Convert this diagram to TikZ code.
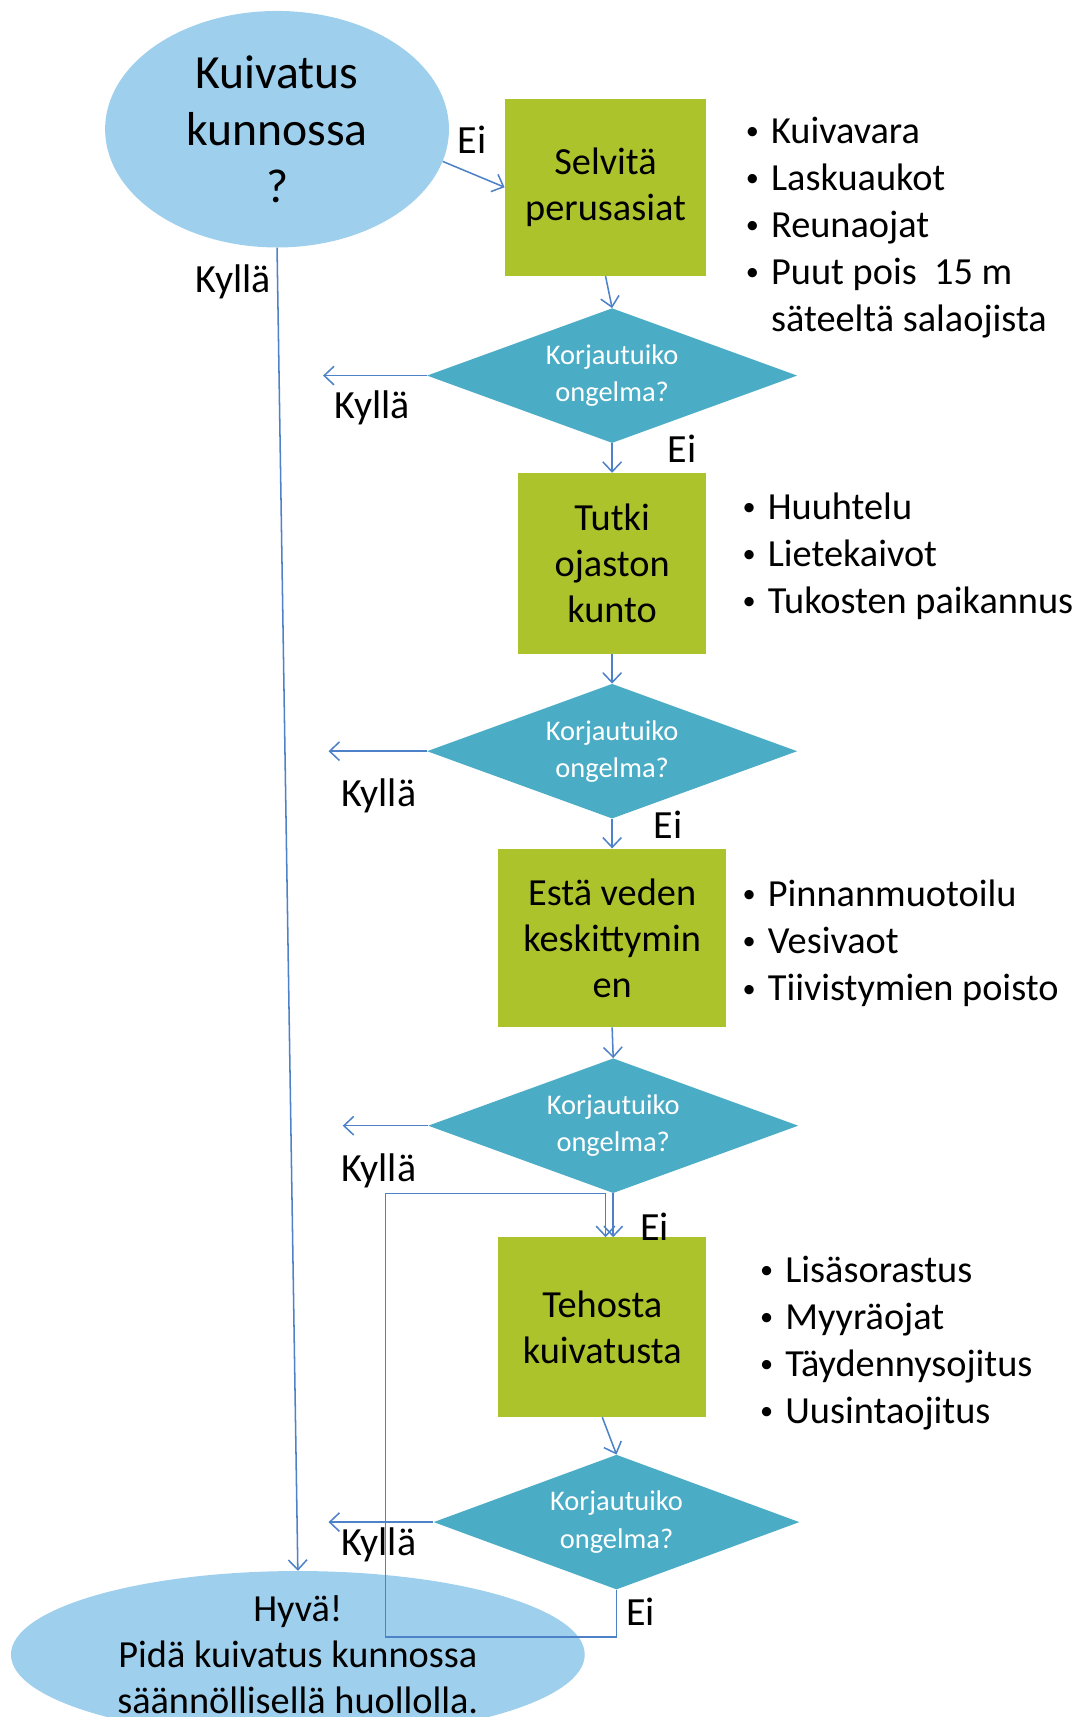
\documentclass[tikz,border=0pt]{standalone}
\usepackage{fontspec}
\setmainfont{Carlito}
\usetikzlibrary{shapes.geometric,arrows.meta}
\definecolor{ellblue}{RGB}{158,207,236}
\definecolor{boxgreen}{RGB}{173,195,43}
\definecolor{diateal}{RGB}{75,172,198}
\definecolor{lineblue}{RGB}{78,130,200}
\newcommand{\bul}{\makebox[24pt][l]{\hspace{1pt}\raisebox{3.5pt}{\fontsize{24}{24}\selectfont•}}}
\newcommand{\blist}[1]{\begin{tabular}[t]{@{}l@{}l@{}}#1\end{tabular}}
\begin{document}
\begin{tikzpicture}[x=1pt,y=-1pt,
  ell/.style={ellipse,fill=ellblue,draw=none,inner sep=0pt,align=center},
  stepbox/.style={rectangle,fill=boxgreen,draw=none,inner sep=0pt,align=center,
     font=\fontsize{35}{42}\selectfont},
  question/.style={diamond,aspect=2.75,fill=diateal,draw=none,inner sep=0pt,align=center,
     text=white,minimum width=338pt,minimum height=123pt,
     font=\fontsize{26}{34}\selectfont},
  lbl/.style={inner sep=0pt,font=\fontsize{36.5}{42}\selectfont},
  bullets/.style={inner sep=0pt,anchor=base west,font=\fontsize{35}{43}\selectfont},
  conn/.style={draw=lineblue,line width=1.4pt,
     -{Straight Barb[length=9pt,width=17pt,line width=1.4pt]}}]
\useasboundingbox (0,0) rectangle (987,1568);

% nodes
\node[ell,minimum width=314pt,minimum height=216pt,
      font=\fontsize{43.5}{52}\selectfont] (e1) at (253,118) {Kuivatus\\kunnossa\\?};
\node[stepbox,minimum width=184pt,minimum height=162pt] (b1) at (553,171) {Selvitä\\perusasiat};
\node[question] (d1) at (559,343) {Korjautuiko\\ongelma?};
\node[stepbox,minimum width=172pt,minimum height=165pt] (b2) at (559,514.5) {Tutki\\ojaston\\kunto};
\node[question] (d2) at (559,686) {Korjautuiko\\ongelma?};
\node[stepbox,minimum width=208pt,minimum height=163pt] (b3) at (559,856.5) {Estä veden\\keskittymin\\en};
\node[question] (d3) at (560,1028) {Korjautuiko\\ongelma?};
\node[stepbox,minimum width=190pt,minimum height=164pt] (b4) at (550,1212) {Tehosta\\kuivatusta};
\node[question,minimum width=334pt] (d4) at (563,1390) {Korjautuiko\\ongelma?};
\node[ell,minimum width=524pt,minimum height=150pt,
      font=\fontsize{35}{42}\selectfont] (e2) at (272,1511) {Hyvä!\\Pidä kuivatus kunnossa\\säännöllisellä huollolla.};

% bullet lists
\node[bullets] (L1) at (680,131) {\blist{\bul&Kuivavara\\ \bul&Laskuaukot\\ \bul&Reunaojat\\ \bul&Puut pois\ \ 15 m\\ &säteeltä salaojista}};
\node[bullets] (L2) at (677,474) {\blist{\bul&Huuhtelu\\ \bul&Lietekaivot\\ \bul&Tukosten paikannus}};
\node[bullets] (L3) at (677,828) {\blist{\bul&Pinnanmuotoilu\\ \bul&Vesivaot\\ \bul&Tiivistymien poisto}};
\node[bullets] (L4) at (693,1171) {\blist{\bul&Lisäsorastus\\ \bul&Myyräojat\\ \bul&Täydennysojitus\\ \bul&Uusintaojitus}};

% free ends
\coordinate (k1) at (295,343);
\coordinate (k2) at (300,686);
\coordinate (k3) at (313,1028);
\coordinate (k4) at (300,1390);
\coordinate (l1) at (563,1495);
\coordinate (l2) at (352,1495);
\coordinate (l3) at (352,1090);
\coordinate (l4) at (553,1090);

% connectors
\draw[conn] (e1.-11) -- (b1.west);
\draw[conn] (e1.south) -- (e2.north);
\draw[conn] (b1.south) -- (d1.north);
\draw[conn] (d1.west) -- (k1);
\draw[conn] (d1.south) -- (d1.south |- b2.north);
\draw[conn] (b2.south) -- (d2.north);
\draw[conn] (d2.west) -- (k2);
\draw[conn] (d2.south) -- (d2.south |- b3.north);
\draw[conn] (b3.south) -- (d3.north);
\draw[conn] (d3.west) -- (k3);
\draw[conn] (d3.south) -- (d3.south |- b4.north);
\draw[conn] (b4.south) -- (d4.north);
\draw[conn] (d4.west) -- (k4);
\draw[conn] (d4.south) -- (l1) -- (l2) -- (l3) -- (l4) -- (l4 |- b4.north);

% labels
\node[lbl] (t1) at (431,128) {Ei};
\node[lbl] (t2) at (213,257) {Kyllä};
\node[lbl] (t3) at (340,372) {Kyllä};
\node[lbl] (t4) at (623,410) {Ei};
\node[lbl] (t5) at (346,727) {Kyllä};
\node[lbl] (t6) at (610,753) {Ei};
\node[lbl] (t7) at (346,1069) {Kyllä};
\node[lbl] (t8) at (598,1120) {Ei};
\node[lbl] (t9) at (346,1411) {Kyllä};
\node[lbl] (t10) at (585,1472) {Ei};
\end{tikzpicture}
\end{document}
